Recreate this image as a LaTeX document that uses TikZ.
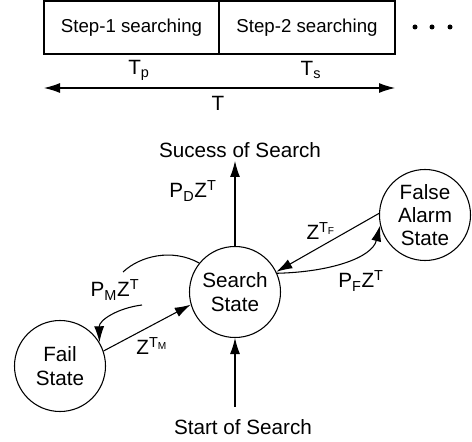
\documentclass[tikz,border=0pt]{standalone}
\usepackage{fontspec}
\setmainfont{Liberation Sans}
\usetikzlibrary{arrows.meta}
\newlength{\unitpx}
\setlength{\unitpx}{0.75pt}
\tikzset{
  boxtext/.style={inner sep=1pt, font=\fontsize{14}{16}\selectfont},
  lbl/.style={inner sep=1pt, font=\fontsize{15.5}{17}\selectfont},
  state/.style={draw, circle, minimum size=91\unitpx, inner sep=0pt, align=center,
    line width=0.8pt, font=\fontsize{15.5}{17.5}\selectfont},
  edge/.style={line width=0.8pt},
  tip/.style={-{Latex[length=12pt,width=7.5pt]}},
  dot/.style={fill, circle, inner sep=0pt, minimum size=5\unitpx},
}
\newcommand{\sub}[1]{\textsubscript{#1}}
\newcommand{\super}[1]{\textsuperscript{#1}}
\begin{document}
\begin{tikzpicture}[x=0.75pt,y=-0.75pt]
  \useasboundingbox (0,0) rectangle (472,442);

  % timeline of the two search steps
  \node[draw, line width=0.8pt, minimum width=175\unitpx, minimum height=53\unitpx, boxtext]
    (s1) at (131.5,27.5) {Step-1 searching};
  \node[draw, line width=0.8pt, minimum width=176\unitpx, minimum height=53\unitpx, boxtext]
    (s2) at (307,27.5) {Step-2 searching};
  \node[dot] (d1) at (415,27) {};
  \node[dot] (d2) at (432,27) {};
  \node[dot] (d3) at (450,27) {};
  \node[lbl] (tp) at (139,70) {T\sub{p}};
  \node[lbl] (ts) at (311,70) {T\sub{s}};
  \coordinate (tl) at (44,88);
  \coordinate (tr) at (395,88);
  \draw[edge, {Latex[length=12pt,width=7.5pt]}-{Latex[length=12pt,width=7.5pt]}] (tl) -- (tr);
  \node[lbl] (tt) at (218,103) {T};

  % state diagram
  \node[state] (search) at (235,292) {Search\\State};
  \node[state] (fail) at (60,366) {Fail\\State};
  \node[state] (fa) at (425,215) {False\\Alarm\\State};

  \node[lbl] (succ) at (240,150) {Sucess of Search};
  \coordinate (succtip) at (235,161);
  \draw[edge, tip] (search.north) -- (succtip);
  \node[lbl] (pd) at (193,191) {P\sub{D}Z\super{T}};

  \node[lbl] (start) at (243,427) {Start of Search};
  \coordinate (startbot) at (235,407);
  \draw[edge, tip] (startbot) -- (search.south);

  % false alarm loop
  \draw[edge, tip] (fa.178) -- (search.26);
  \draw[edge, tip] (search.24) .. controls (330,272) and (372,258) .. (fa.193);
  \node[lbl] (ztf) at (321,231) {Z\super{T\sub{F}}};
  \node[lbl] (pf) at (361,281) {P\sub{F}Z\super{T}};

  % fail loop
  \draw[edge, tip] (fail.19) -- (search.196);
  \node[lbl] (ztm) at (152,346) {Z\super{T\sub{M}}};
  \coordinate (m1) at (123,272);
  \coordinate (m2) at (142,305);
  \draw[edge] (search.141) .. controls (172,248) and (140,256) .. (m1);
  \draw[edge, tip] (m2) .. controls (118,308) and (99,320) .. (fail.31);
  \node[lbl] (pm) at (115,290) {P\sub{M}Z\super{T}};
\end{tikzpicture}
\end{document}
